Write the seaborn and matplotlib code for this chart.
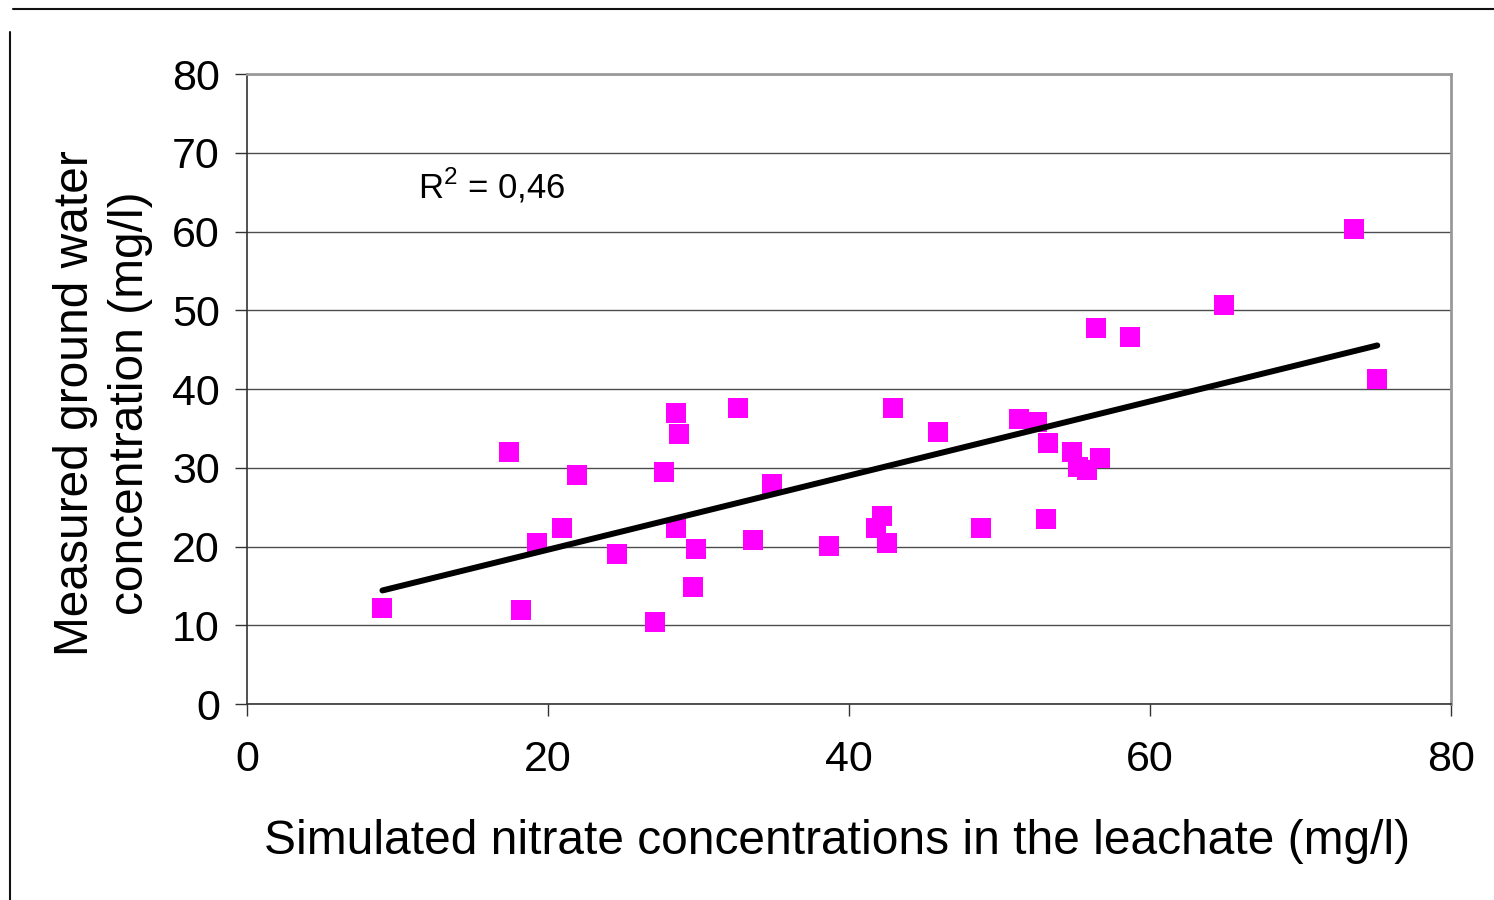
import numpy as np
import pandas as pd
import matplotlib
matplotlib.use("Agg")
import matplotlib.pyplot as plt
import seaborn as sns
from matplotlib.lines import Line2D

# values
simulated = [9.0, 17.4, 18.2, 19.3, 20.9, 21.9, 24.6, 27.1, 27.7, 28.5,
             28.7, 28.5, 29.65, 29.85, 32.6, 33.6, 34.9, 38.65, 41.8, 42.2,
             42.5, 42.95, 45.9, 48.8, 51.3, 52.5, 53.2, 53.1, 54.8, 55.2,
             55.8, 56.7, 56.4, 58.7, 64.95, 73.55, 75.1]
measured = [12.2, 32.0, 11.9, 20.5, 22.4, 29.1, 19.0, 10.45, 29.4, 36.9,
            34.3, 22.3, 14.9, 19.7, 37.6, 20.8, 27.9, 20.1, 22.4, 23.9,
            20.5, 37.6, 34.6, 22.3, 36.2, 35.8, 33.2, 23.5, 32.0, 30.1,
            29.7, 31.3, 47.7, 46.6, 50.7, 60.3, 41.3]
x_ticks = [0, 20, 40, 60, 80]
y_ticks = [0, 10, 20, 30, 40, 50, 60, 70, 80]
r2_label = "R$^2$ = 0,46"

df = pd.DataFrame({"simulated": simulated, "measured": measured})

sns.set_theme(style="white")
plt.rcParams["font.family"] = ["Liberation Sans", "DejaVu Sans"]
plt.rcParams["text.color"] = "black"
plt.rcParams["mathtext.fontset"] = "custom"
plt.rcParams["mathtext.rm"] = "Liberation Sans"

W, H = 1494, 900
fig = plt.figure(figsize=(W / 100, H / 100), dpi=100)
ax = fig.add_axes([247 / W, 1 - 704 / H, (1451 - 247) / W, (704 - 74) / H])

sns.scatterplot(data=df, x="simulated", y="measured", marker="s", s=200,
                color="#FF00FF", linewidth=0, ax=ax, zorder=3)
sns.regplot(data=df, x="simulated", y="measured", scatter=False, ci=None,
            truncate=True, color="black", line_kws={"linewidth": 4.3, "zorder": 4},
            ax=ax)

ax.set_xlim(0, 80)
ax.set_ylim(0, 80)
ax.set_xticks(x_ticks)
ax.set_yticks(y_ticks)
ax.set_xlabel("")
ax.set_ylabel("")
ax.yaxis.grid(True, color="#4d4d4d", linewidth=1.0, zorder=0)
ax.xaxis.grid(False)
ax.set_axisbelow(True)

for side in ["left", "bottom"]:
    ax.spines[side].set_color("#333333")
    ax.spines[side].set_linewidth(1.2)
for side in ["top", "right"]:
    ax.spines[side].set_color("#999999")
    ax.spines[side].set_linewidth(2.0)

ax.tick_params(axis="y", direction="out", length=8.6, width=1, color="#333333",
               labelsize=31, pad=11, left=True, labelcolor="black")
ax.tick_params(axis="x", direction="out", length=8.6, width=1, color="#333333",
               labelsize=31, pad=17, bottom=True, labelcolor="black")

ax.text(418 / W, 1 - 198 / H, r2_label, transform=fig.transFigure,
        fontsize=25, ha="left", va="baseline", color="black")

fig.text(837 / W, 1 - 842 / H,
         "Simulated nitrate concentrations in the leachate (mg/l)",
         fontsize=34.5, ha="center", va="center", color="black")
fig.text(103 / W, 1 - 403 / H,
         "Measured ground water\nconcentration (mg/l)",
         fontsize=34.5, ha="center", va="center", rotation=90,
         multialignment="center", linespacing=1.3, color="black")

# page frame lines
fig.add_artist(Line2D([13 / W, 1], [1 - 9 / H, 1 - 9 / H], color="#111111",
                      linewidth=1.5, transform=fig.transFigure))
fig.add_artist(Line2D([10 / W, 10 / W], [1 - 32 / H, 0], color="#111111",
                      linewidth=1.5, transform=fig.transFigure))

fig.savefig("out.png", dpi=100)
